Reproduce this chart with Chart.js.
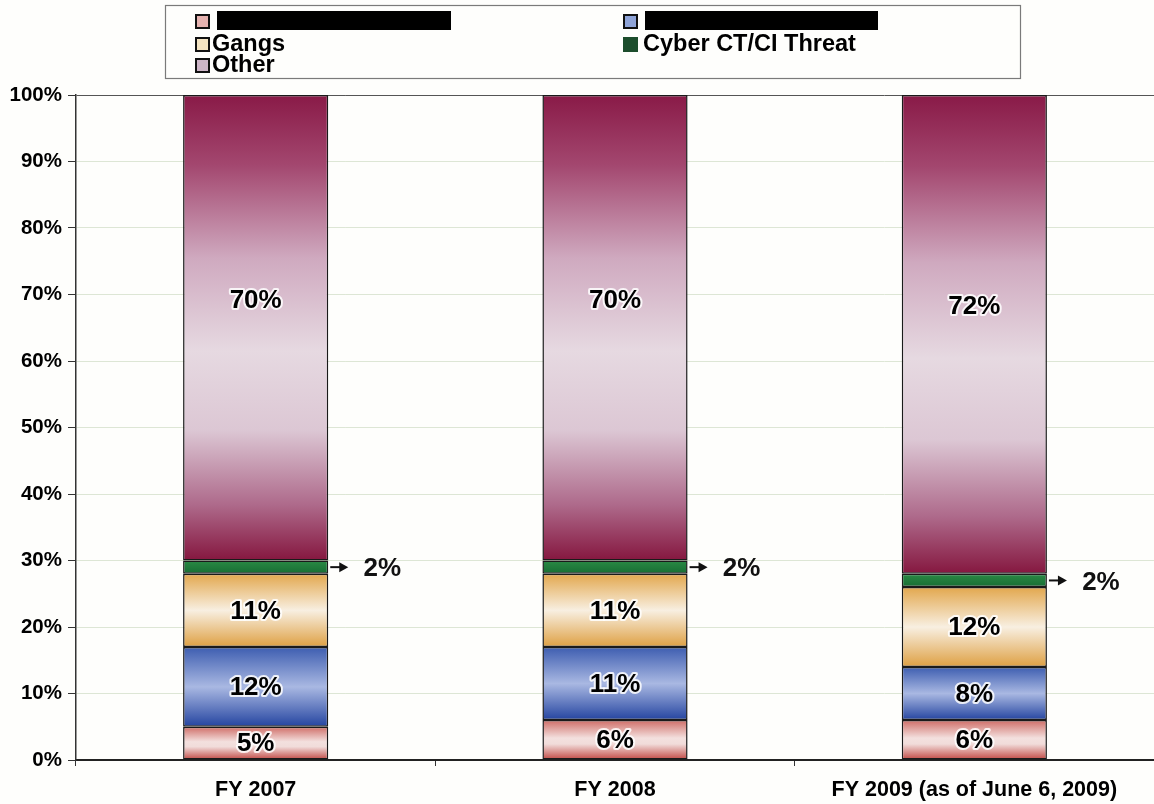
<!DOCTYPE html>
<html>
<head>
  <meta charset="utf-8">
  <title>fy chart</title>
  <script src="https://cdn.jsdelivr.net/npm/chart.js@4/dist/chart.umd.min.js"></script>
  <style>
    body { margin: 0; background: #fefefc; }
    #wrap { width: 1154px; height: 804px; position: relative; }
  </style>
</head>
<body>
  <div id="wrap">
    <canvas id="chart"></canvas>
  </div>
  <script>
  // data (percent of total per fiscal year)
  const categories = ['FY 2007', 'FY 2008', 'FY 2009 (as of June 6, 2009)'];
  const redacted1 = [5, 6, 6];
  const redacted2 = [12, 11, 8];
  const gangs = [11, 11, 12];
  const cyber = [2, 2, 2];
  const other = [70, 70, 72];
  const yTicks = [0, 10, 20, 30, 40, 50, 60, 70, 80, 90, 100];

  const FONT = '"Liberation Sans", Arial, sans-serif';

  // vertical gradient stops per series (top -> bottom of a segment)
  const stops = [
    [[0, '#cf6c66'], [0.45, '#f3e0de'], [0.6, '#f1dcda'], [1, '#c04641']],
    [[0, '#3d5db0'], [0.5, '#a9b8e2'], [1, '#2444a0']],
    [[0, '#e2a74d'], [0.5, '#f8efe1'], [1, '#dea043']],
    [[0, '#2a8a45'], [1, '#176d33']],
    [[0, '#891a47'], [0.15, '#a3476f'], [0.35, '#cfa9bf'], [0.55, '#e6d9e1'],
     [0.72, '#dcc7d4'], [0.88, '#ae6a8b'], [1, '#85173f']]
  ];
  const legendFill = ['#e6b3b0', '#8fa4d8', '#f4e4c2', '#1c4d2c', '#cdb5c7'];
  const allSeries = [redacted1, redacted2, gangs, cyber, other];

  function segGradient(context, d) {
    const chart = context.chart;
    const i = context.dataIndex;
    const yScale = chart.scales.y;
    if (i === undefined || !chart.chartArea || !yScale) return stops[d][0][1];
    let base = 0;
    for (let k = 0; k < d; k++) base += allSeries[k][i];
    const top = yScale.getPixelForValue(base + allSeries[d][i]);
    const bot = yScale.getPixelForValue(base);
    const g = chart.ctx.createLinearGradient(0, top, 0, bot);
    stops[d].forEach(s => g.addColorStop(s[0], s[1]));
    return g;
  }

  // custom legend box drawn on the canvas
  const legendBox = {
    id: 'legendBox',
    afterDraw(chart) {
      const c = chart.ctx;
      c.save();
      c.strokeStyle = '#7a7a7a';
      c.lineWidth = 1.2;
      c.strokeRect(165.5, 5.5, 855, 73);
      const items = [
        {d: 0, x: 196, y: 21, text: null, w: 234},
        {d: 1, x: 624, y: 21, text: null, w: 233},
        {d: 2, x: 196, y: 44, text: chart.data.datasets[2].label},
        {d: 3, x: 624, y: 44, text: chart.data.datasets[3].label},
        {d: 4, x: 196, y: 65, text: chart.data.datasets[4].label}
      ];
      items.forEach(it => {
        c.fillStyle = legendFill[it.d];
        c.fillRect(it.x, it.y - 6, 13, 13);
        c.strokeStyle = it.d === 3 ? '#1c4d2c' : '#111';
        c.lineWidth = 2;
        c.strokeRect(it.x, it.y - 6, 13, 13);
        if (it.text === null) {
          // redacted label
          c.fillStyle = '#000';
          c.fillRect(it.x + 21, it.y - 10, it.w, 19);
        } else {
          c.fillStyle = '#000';
          c.font = 'bold 23.5px ' + FONT;
          c.textBaseline = 'middle';
          c.textAlign = 'left';
          c.fillText(it.text, it.x + (it.d === 3 ? 19 : 16), it.y + 1);
        }
      });
      c.restore();
    }
  };

  // value labels inside the bars, and the arrow labels for the thin green segment
  const valueLabels = {
    id: 'valueLabels',
    afterDatasetsDraw(chart) {
      const c = chart.ctx;
      c.save();
      c.font = 'bold 26px ' + FONT;
      c.textBaseline = 'middle';
      c.textAlign = 'center';
      c.lineJoin = 'round';
      chart.data.datasets.forEach((ds, d) => {
        const meta = chart.getDatasetMeta(d);
        meta.data.forEach((el, i) => {
          const txt = ds.data[i] + '%';
          const h = el.base - el.y;
          if (d === 3) {
            const cy = el.y + h / 2;
            const x0 = el.x + el.width / 2 + 2;
            c.strokeStyle = '#111';
            c.fillStyle = '#111';
            c.lineWidth = 2;
            c.beginPath();
            c.moveTo(x0, cy);
            c.lineTo(x0 + 10, cy);
            c.stroke();
            c.beginPath();
            c.moveTo(x0 + 18, cy);
            c.lineTo(x0 + 9, cy - 5);
            c.lineTo(x0 + 9, cy + 5);
            c.closePath();
            c.fill();
            c.fillText(txt, x0 + 52, cy + 2);
            return;
          }
          const cy = d === 4 ? el.base - h * 0.56 : el.y + h / 2;
          c.strokeStyle = 'rgba(255,255,255,0.85)';
          c.lineWidth = 4;
          c.strokeText(txt, el.x, cy + 1);
          c.fillStyle = '#000';
          c.fillText(txt, el.x, cy + 1);
        });
      });
      c.restore();
    }
  };

  const bg = {
    id: 'bg',
    beforeDraw(chart) {
      const c = chart.ctx;
      c.save();
      c.fillStyle = '#fefefc';
      c.fillRect(0, 0, chart.width, chart.height);
      c.restore();
    }
  };

  const names = ['', '', 'Gangs', 'Cyber CT/CI Threat', 'Other'];
  const datasets = allSeries.map((s, d) => ({
    label: names[d],
    data: s,
    backgroundColor: ctx => segGradient(ctx, d),
    borderColor: '#1a1a1a',
    borderWidth: 1.5,
    borderSkipped: false,
    barPercentage: 0.404,
    categoryPercentage: 1
  }));

  const chart = new Chart(document.getElementById('chart'), {
    type: 'bar',
    data: { labels: categories, datasets: datasets },
    plugins: [bg, valueLabels, legendBox],
    options: {
      responsive: true,
      maintainAspectRatio: false,
      animation: false,
      layout: { padding: { top: 95, left: 0, right: -5, bottom: 0 } },
      plugins: {
        legend: { display: false },
        tooltip: { enabled: false }
      },
      scales: {
        x: {
          stacked: true,
          grid: { display: true, drawOnChartArea: false, offset: true, tickLength: 6, tickColor: '#333' },
          border: { display: true, color: '#222', width: 2 },
          ticks: { color: '#000', font: { family: FONT, size: 21.5, weight: 'bold' }, padding: 11, maxRotation: 0 },
          afterFit(scale) { scale.height = 44; }
        },
        y: {
          stacked: true,
          min: 0,
          max: 100,
          afterBuildTicks(scale) { scale.ticks = yTicks.map(v => ({ value: v })); },
          grid: {
            color: ctx => (ctx.tick && ctx.tick.value === 100) ? '#555' : '#dde6d5',
            lineWidth: 1,
            tickLength: 8,
            tickColor: '#333'
          },
          border: { display: true, color: '#333', width: 1.5 },
          ticks: {
            color: '#000',
            font: { family: FONT, size: 20.5, weight: 'bold' },
            padding: 6,
            callback: v => v + '%'
          },
          afterFit(scale) { scale.width = 76; }
        }
      }
    }
  });
  </script>
</body>
</html>
